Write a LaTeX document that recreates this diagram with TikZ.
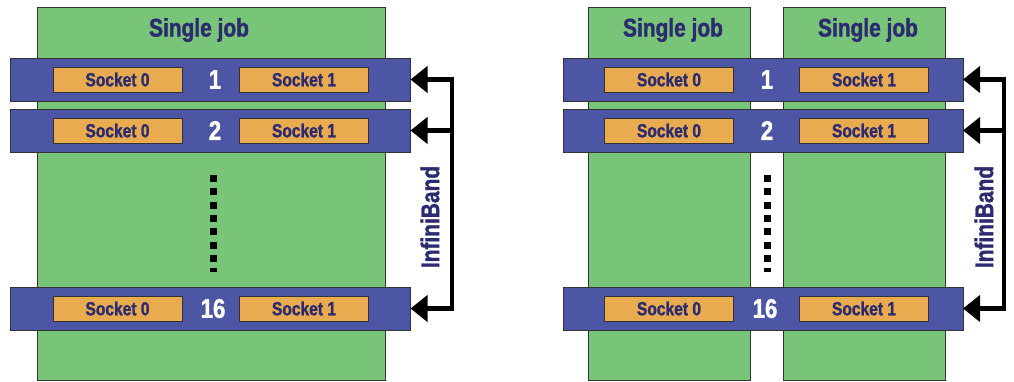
\documentclass[tikz,border=0pt]{standalone}
\usepackage{fontspec}
\setmainfont{Liberation Sans}[FakeStretch=0.82,BoldFeatures={FakeBold=1.3}]
\usepackage{tikz}
\usetikzlibrary{arrows.meta}

\definecolor{jobgreen}{HTML}{78C478}
\definecolor{barblue}{HTML}{4D55A5}
\definecolor{sockorange}{HTML}{E8AB50}
\definecolor{navytext}{HTML}{2D2B70}
\definecolor{edgegray}{HTML}{333333}

\begin{document}
\begin{tikzpicture} [
            x=1pt, y=-1pt,
            job/.style={draw=edgegray,fill=jobgreen,line width=1pt,inner sep=0pt,outer sep=0pt},
            bar/.style={draw=edgegray,fill=barblue,line width=1pt,inner sep=0pt,outer sep=0pt,
                        minimum width=400pt,minimum height=43pt},
            sock/.style={draw=edgegray,fill=sockorange,line width=1pt,inner sep=0pt,
                        minimum width=129pt,minimum height=25pt,
                        font=\fontsize{19}{19}\selectfont\bfseries,text=navytext},
            nodeno/.style={font=\fontsize{27}{27}\selectfont\bfseries,text=white},
            jobtxt/.style={font=\fontsize{25.5}{25.5}\selectfont\bfseries,text=navytext},
            ibtxt/.style={font=\fontsize{25.5}{25.5}\selectfont\bfseries,text=navytext,rotate=90},
            ib/.style={line width=4.5pt,black,line join=miter,>={Triangle[length=17pt,width=26pt]}},
            dots/.style={line width=7pt,black,dash pattern=on 7pt off 6.3pt}]

\useasboundingbox (0,0) rectangle (1014,381);

%J1
\node (job1) at (211,193.5) [job,minimum width=348pt,minimum height=373pt] {};
\node (jt1) at (199,30) [jobtxt] {Single job};

%B1
\node (b1) at (210.5,79.5) [bar] {};
\node (s10) at (117.5,79.5) [sock] {Socket 0};
\node (n1) at (215,79.5) [nodeno] {1};
\node (s11) at (304,79.5) [sock] {Socket 1};

%B2
\node (b2) at (210.5,130.5) [bar] {};
\node (s20) at (117.5,130.5) [sock] {Socket 0};
\node (n2) at (215,130.5) [nodeno] {2};
\node (s21) at (304,130.5) [sock] {Socket 1};

%B16
\node (b16) at (210.5,308.5) [bar] {};
\node (s160) at (117.5,308.5) [sock] {Socket 0};
\node (n16) at (213,308.5) [nodeno] {16};
\node (s161) at (304,308.5) [sock] {Socket 1};

% dots
\draw[dots] (213.5,175) -- (213.5,272);

% InfiniBand
\coordinate (ibl) at (452,0);
\coordinate (c1) at (b1.east -| ibl);
\coordinate (c2) at (b2.east -| ibl);
\coordinate (c16) at (b16.east -| ibl);
\draw[ib,<->] (b1.east) -- (c1) -- (c16) -- (b16.east);
\draw[ib,->] (c2) -- (b2.east);
\node (ib1) at (430,217) [ibtxt] {InfiniBand};


%J2
\node (job2) at (669,193.5) [job,minimum width=162pt,minimum height=373pt] {};
\node (jt2) at (673,30) [jobtxt] {Single job};
%J3
\node (job3) at (864,193.5) [job,minimum width=162pt,minimum height=373pt] {};
\node (jt3) at (868,30) [jobtxt] {Single job};

%B1r
\node (r1) at (763,79.5) [bar] {};
\node (t10) at (669,79.5) [sock] {Socket 0};
\node (m1) at (767,79.5) [nodeno] {1};
\node (t11) at (864,79.5) [sock] {Socket 1};

%B2r
\node (r2) at (763,130.5) [bar] {};
\node (t20) at (669,130.5) [sock] {Socket 0};
\node (m2) at (767,130.5) [nodeno] {2};
\node (t21) at (864,130.5) [sock] {Socket 1};

%B16r
\node (r16) at (763,308.5) [bar] {};
\node (t160) at (669,308.5) [sock] {Socket 0};
\node (m16) at (765,308.5) [nodeno] {16};
\node (t161) at (864,308.5) [sock] {Socket 1};

% dots
\draw[dots] (767,175) -- (767,272);

% InfiniBand
\coordinate (ibr) at (1004,0);
\coordinate (d1) at (r1.east -| ibr);
\coordinate (d2) at (r2.east -| ibr);
\coordinate (d16) at (r16.east -| ibr);
\draw[ib,<->] (r1.east) -- (d1) -- (d16) -- (r16.east);
\draw[ib,->] (d2) -- (r2.east);
\node (ib2) at (984,217) [ibtxt] {InfiniBand};

\end{tikzpicture}
\end{document}
